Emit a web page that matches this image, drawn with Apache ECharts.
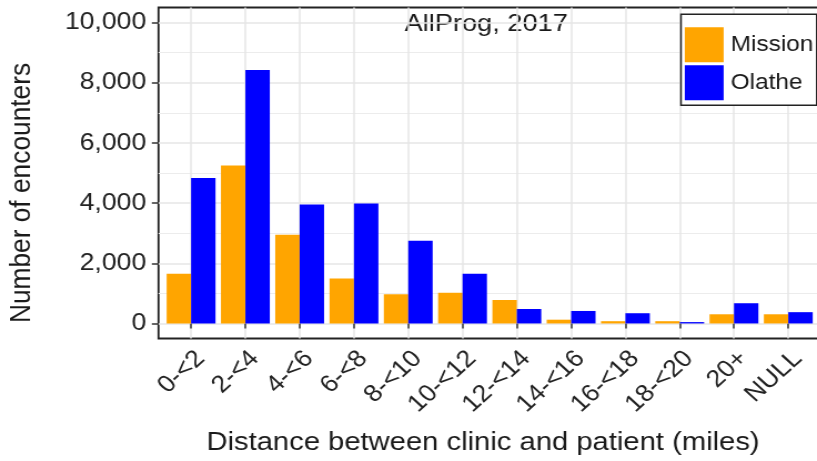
<!DOCTYPE html>
<html>
<head>
<meta charset="utf-8">
<script src="https://cdn.jsdelivr.net/npm/echarts@6/dist/echarts.min.js"></script>
<style>
html,body{margin:0;padding:0;background:#fff;overflow:hidden;}
#chart{width:736px;height:461px;transform:scaleX(1.11);transform-origin:0 0;}
</style>
</head>
<body>
<div id="chart"></div>
<script>
const categories = ['0-<2','2-<4','4-<6','6-<8','8-<10','10-<12','12-<14','14-<16','16-<18','18-<20','20+','NULL'];
const mission = [1650, 5250, 2950, 1490, 970, 1020, 780, 125, 75, 75, 305, 305];
const olathe  = [4830, 8420, 3950, 3990, 2750, 1650, 480, 415, 340, 45, 672, 375];
const yMajorTicks = [0, 2000, 4000, 6000, 8000, 10000];
const yMinorTicks = [1000, 3000, 5000, 7000, 9000];
const xPositions = categories.map((c, i) => i + 1);

const FONT = "'Liberation Sans', Arial, sans-serif";
const chart = echarts.init(document.getElementById('chart'));
chart.setOption({
  animation: false,
  backgroundColor: '#fff',
  grid: {
    left: 142.8, right: -3.5, top: 7.5, bottom: 122.5,
    show: true, borderColor: '#222', borderWidth: 1.8,
    containLabel: false, outerBoundsMode: 'none'
  },
  graphic: [{
    type: 'text', x: 438, y: 24,
    style: { text: 'AllProg, 2017', font: '24.5px ' + FONT, fill: '#1a1a1a',
             align: 'center', verticalAlign: 'middle' }
  }],
  legend: {
    orient: 'vertical', left: 613.5, top: 14.3,
    padding: [13, 3, 5, 3.4], itemGap: 3,
    itemWidth: 35, itemHeight: 35,
    borderColor: '#222', borderWidth: 1.5, backgroundColor: '#fff',
    icon: 'rect',
    textStyle: { fontFamily: FONT, fontSize: 22, color: '#1a1a1a', padding: [0, 0, 0, 1.3] },
    data: ['Mission', 'Olathe']
  },
  xAxis: {
    type: 'value', min: 0.4, max: 12.6,
    name: 'Distance between clinic and patient (miles)',
    nameLocation: 'middle', nameGap: 91,
    nameTextStyle: { fontFamily: FONT, fontSize: 26.3, color: '#1a1a1a', padding: [0, 12, 0, 0] },
    axisLine: { show: false },
    axisTick: { show: true, length: 5, customValues: xPositions, lineStyle: { color: '#333', width: 1.5 } },
    axisLabel: {
      customValues: xPositions, rotate: 45, margin: 8,
      align: 'right', verticalAlign: 'top',
      fontFamily: FONT, fontSize: 24, color: '#222',
      formatter: v => categories[Math.round(v) - 1]
    },
    splitLine: { show: true, lineStyle: { color: '#e6e6e6', width: 1.5 } }
  },
  yAxis: [{
    type: 'value', min: -500, max: 10500,
    name: 'Number of encounters', nameLocation: 'middle', nameRotate: 90, nameGap: 110,
    nameTextStyle: { fontFamily: FONT, fontSize: 26.3, color: '#1a1a1a', padding: [0, 40, 0, 0] },
    axisLine: { show: false },
    axisTick: { show: true, length: 6, customValues: yMajorTicks, lineStyle: { color: '#333', width: 1.5 } },
    axisLabel: {
      customValues: yMajorTicks, margin: 11,
      fontFamily: FONT, fontSize: 24, color: '#222',
      formatter: v => v.toLocaleString('en-US')
    },
    splitLine: { show: true, lineStyle: { color: '#e6e6e6', width: 1.5 } }
  }, {
    type: 'value', min: -500, max: 10500, position: 'left',
    axisLine: { show: false },
    axisTick: { show: false, customValues: yMinorTicks },
    axisLabel: { show: false, customValues: yMinorTicks },
    splitLine: { show: true, lineStyle: { color: '#ececec', width: 1 } }
  }],
  series: [{
    name: 'Mission', type: 'bar', yAxisIndex: 0,
    data: mission.map((v, i) => [xPositions[i], v]),
    barWidth: 22, barGap: '0%',
    itemStyle: { color: '#FFA500' }
  }, {
    name: 'Olathe', type: 'bar', yAxisIndex: 0,
    data: olathe.map((v, i) => [xPositions[i], v]),
    barWidth: 22, barGap: '0%',
    itemStyle: { color: '#0000FF' }
  }]
});
</script>
</body>
</html>
